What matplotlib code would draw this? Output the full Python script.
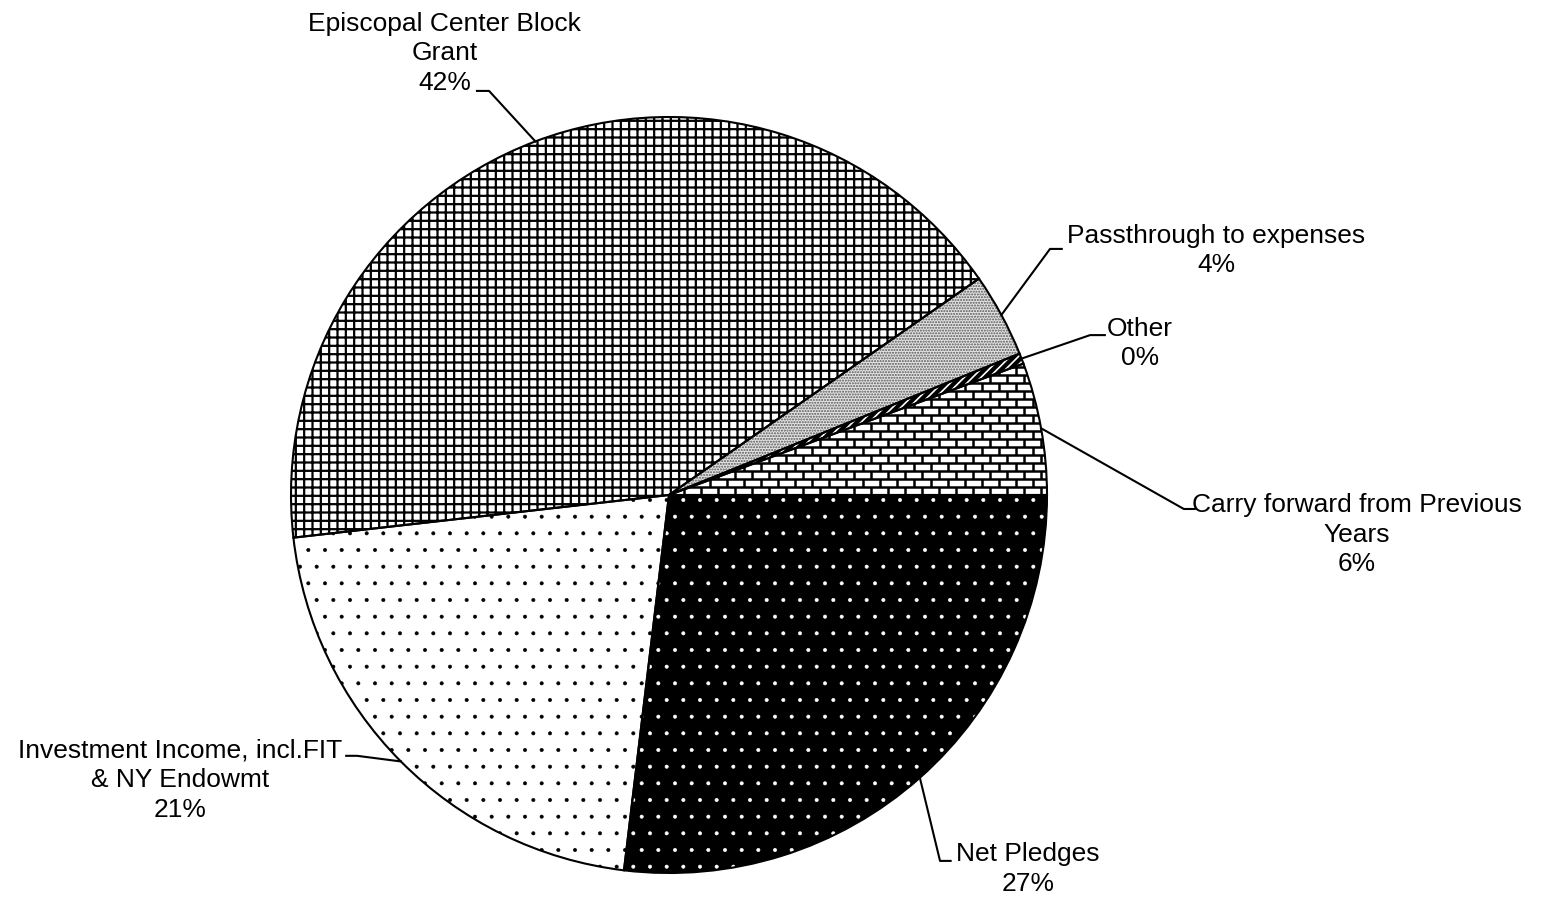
import matplotlib
matplotlib.use("Agg")
import matplotlib.pyplot as plt
import numpy as np
from matplotlib.collections import LineCollection

plt.rcParams['font.family'] = ['Liberation Sans', 'DejaVu Sans']
plt.rcParams['hatch.linewidth'] = 0.9

# slices, clockwise from 3 o'clock
labels = ['Net Pledges', 'Investment Income, incl.FIT\n& NY Endowmt', 'Episcopal Center Block\nGrant',
          'Passthrough to expenses', 'Other', 'Carry forward from Previous\nYears']
values = [26.9, 21.3, 42.1, 3.6, 0.45, 5.65]

# fill styles: face, hatch colour, hatch, hatch width
faces = ['black', 'white', 'white', '#e4e4e4', 'black', 'white']
hatch_colors = ['white', 'black', 'black', '#555555', 'white', 'black']
hatches = ['.', '.', '++', '......', '////', None]
hatch_widths = [0.4, 0.4, 1.6, 1.0, 1.2, 1.0]

# label block centres and elbow points (data units, radius = 1)
label_xy = [(0.95, -0.99), (-1.294, -0.755), (-0.593, 1.168), (1.447, 0.647), (1.246, 0.401), (1.820, -0.105)]
elbow_xy = [(0.717, -0.968), (-0.825, -0.690), (-0.476, 1.069), (1.008, 0.651), (1.114, 0.423), (1.362, -0.037)]
end_xy = [(0.745, -0.968), (-0.854, -0.690), (-0.508, 1.069), (1.039, 0.651), (1.153, 0.423), (1.391, -0.037)]

W, H, R = 1546, 899, 378
fig = plt.figure(figsize=(W / 100, H / 100), dpi=100)
ax = fig.add_axes([0, 0, 1, 1])

wedges, _ = ax.pie(values, startangle=0, counterclock=False, radius=1, center=(0, 0),
                   colors=faces, wedgeprops=dict(linewidth=0), frame=True)
for w, hc, h, hw in zip(wedges, hatch_colors, hatches, hatch_widths):
    w.set_edgecolor(hc)
    if h:
        w.set_hatch(h)
    if hasattr(w, 'set_hatch_linewidth'):
        w.set_hatch_linewidth(hw)

# brick texture for the carry forward slice
bh, bw = 8 / R, 17 / R
segs = []
for k, y in enumerate(np.arange(0.0, 0.45, bh)):
    segs.append([(-0.05, y), (1.05, y)])
    off = (k % 2) * bw / 2
    for x in np.arange(-0.05 + off, 1.05, bw):
        segs.append([(x, y), (x, y + bh)])
bricks = LineCollection(segs, colors='black', linewidths=1.8)
ax.add_collection(bricks)
bricks.set_clip_path(wedges[5])

# outlines
outl, _ = ax.pie(values, startangle=0, counterclock=False, radius=1, center=(0, 0),
                 wedgeprops=dict(fill=False, edgecolor='black', linewidth=1.5), frame=True)

total = sum(values)
for w, lab, v, lxy, exy, txy in zip(wedges, labels, values, label_xy, elbow_xy, end_xy):
    ang = np.deg2rad((w.theta1 + w.theta2) / 2)
    px, py = np.cos(ang), np.sin(ang)
    ax.plot([px, exy[0], txy[0]], [py, exy[1], txy[1]], color='black', lw=1.5)
    ax.text(lxy[0], lxy[1], f"{lab}\n{round(v / total * 100):.0f}%", ha='center', va='center',
            fontsize=19, linespacing=1.3)

ax.set_xlim(-669 / R, (W - 669) / R)
ax.set_ylim(-(H - 495) / R, 495 / R)
ax.set_aspect('equal')
ax.axis('off')
fig.savefig('out.png', dpi=100)
